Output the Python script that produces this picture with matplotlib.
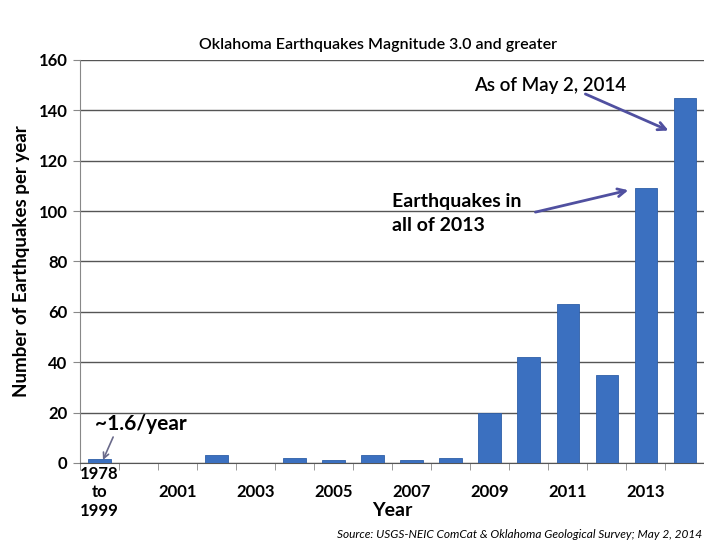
import matplotlib.pyplot as plt
import matplotlib
import numpy as np

matplotlib.rcParams['font.family'] = ['Lato', 'DejaVu Sans']

categories = ['1978\nto\n1999', '2000', '2001', '2002', '2003', '2004', '2005', '2006',
              '2007', '2008', '2009', '2010', '2011', '2012', '2013', '2014']
counts = [1.6, 0, 0, 3, 0, 2, 1, 3, 1, 2, 20, 42, 63, 35, 109, 145]
y_ticks = [0, 20, 40, 60, 80, 100, 120, 140, 160]

fig = plt.figure(figsize=(7.04, 5.42), dpi=100)
ax = fig.add_axes([0.1136, 0.1458, 0.887, 0.7435])

x = np.arange(len(categories))
ax.bar(x, counts, width=0.58, color='#3b70c0', edgecolor='#2f5fa8', linewidth=0.6, zorder=3)

ax.set_xlim(-0.5, len(categories) - 0.5)
ax.set_ylim(0, 160)
ax.set_yticks(y_ticks)
ax.yaxis.grid(True, color='#555555', linewidth=1.0, zorder=0)
ax.tick_params(axis='y', labelsize=12, length=5, color='#888888', pad=4)
for lab in ax.get_yticklabels():
    lab.set_fontweight('bold')

# labels on every other category, tick marks on category boundaries
ax.set_xticks(x)
ax.set_xticklabels([c if i % 2 == 0 else '' for i, c in enumerate(categories)],
                   fontsize=12, fontweight='bold', va='center')
ax.tick_params(axis='x', which='major', length=0, pad=21)
ax.set_xticks(np.arange(-0.5, len(categories)), minor=True)
ax.tick_params(axis='x', which='minor', length=5, color='#888888')

for s in ['top', 'right']:
    ax.spines[s].set_visible(False)
ax.spines['left'].set_color('#888888')
ax.spines['bottom'].set_color('#555555')

ax.set_ylabel('Number of Earthquakes per year', fontsize=13.5, fontweight='bold', labelpad=6)
ax.set_xlabel('Year', fontsize=14, fontweight='bold', labelpad=0)
ax.xaxis.set_label_coords(0.50, -0.098)

fig.text(0.537, 0.917, 'Oklahoma Earthquakes Magnitude 3.0 and greater', ha='center', va='center',
         fontsize=11.5, fontweight='semibold')
fig.text(0.997, 0.004, 'Source: USGS-NEIC ComCat & Oklahoma Geological Survey; May 2, 2014',
         ha='right', va='bottom', fontsize=8.6, style='italic')

arrow = dict(arrowstyle='->', color='#5050a0', lw=2, mutation_scale=14, shrinkA=0, shrinkB=0)
ax.text(11.55, 150, 'As of May 2, 2014', ha='center', va='center',
        fontsize=13.5, fontweight='semibold')
ax.annotate('', xy=(14.58, 132), xytext=(12.45, 146.5), arrowprops=arrow)
ax.text(7.5, 99, 'Earthquakes in\nall of 2013', ha='left', va='center', fontsize=14,
        fontweight='bold', linespacing=1.55)
ax.annotate('', xy=(13.55, 108.3), xytext=(11.17, 99.6), arrowprops=arrow)
ax.text(1.06, 15.5, '~1.6/year', ha='center', va='center', fontsize=15, fontweight='bold')
ax.annotate('', xy=(0.09, 1.2), xytext=(0.35, 10.3),
            arrowprops=dict(arrowstyle='->', color='#6a6a8a', lw=1.2, shrinkA=0, shrinkB=0))

fig.savefig('out.png', dpi=100)
